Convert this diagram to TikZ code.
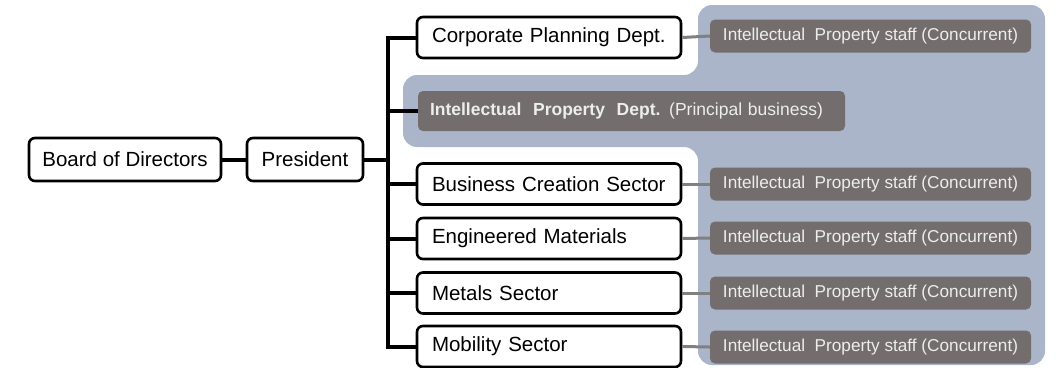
\documentclass[tikz,border=0pt]{standalone}
\usepackage{fontspec}
\setmainfont{Liberation Sans}
\definecolor{panelblue}{HTML}{AAB5C9}
\definecolor{staffgray}{HTML}{746D6D}
\definecolor{linkgray}{HTML}{808080}
\definecolor{stafftext}{HTML}{EDEDED}
\begin{document}
\begin{tikzpicture}[x=1pt,y=-1pt,
  orgbox/.style={draw=black, line width=2.6pt, rounded corners=6pt, fill=white,
    minimum height=41pt, inner sep=0pt, font=\fontsize{20.5}{23}\selectfont},
  unitbox/.style={orgbox, minimum width=264pt, text width=234pt, align=left},
  staffbox/.style={fill=staffgray, rounded corners=5pt, minimum width=321pt,
    minimum height=33pt, inner sep=0pt, text=stafftext,
    font=\fontsize{17.2}{20}\selectfont},
  treeline/.style={line width=4pt, black},
  stafflink/.style={line width=3pt, linkgray}
]
\useasboundingbox (0,0) rectangle (1056,367);

% blue panel holding the intellectual property staff
\fill[panelblue, rounded corners=14pt]
  (698,5) -- (1045,5) -- (1045,365) -- (698,365) -- (698,147)
  -- (403,147) -- (403,75) -- (698,75) -- cycle;

% top of the hierarchy
\node[orgbox, minimum width=192pt, minimum height=43pt] (board) at (125,159.5) {Board of Directors};
\node[orgbox, minimum width=116pt, minimum height=43pt] (pres) at (305,159.5) {President};
\coordinate (hub) at (388,159.5);

% departments and sectors
\node[unitbox] (corp) at (549,37.5) {Corporate Planning Dept.};
\node[fill=staffgray, rounded corners=5pt, minimum width=427pt, minimum height=40pt,
  text width=403pt, align=left, inner sep=0pt, text=stafftext,
  font=\fontsize{17.5}{20}\selectfont] (ipd) at (631.5,111)
  {\textbf{Intellectual\ \ Property\ \ Dept.} (Principal business)};
\node[unitbox] (bcs) at (549,184) {Business Creation Sector};
\node[unitbox] (eng) at (549,238.5) {Engineered Materials};
\node[unitbox] (met) at (549,293) {Metals Sector};
\node[unitbox] (mob) at (549,346.5) {Mobility Sector};

% concurrent staff
\node[staffbox] (s1) at (870.5,36) {Intellectual\ \ Property staff (Concurrent)};
\node[staffbox] (s2) at (870.5,184) {Intellectual\ \ Property staff (Concurrent)};
\node[staffbox] (s3) at (870.5,238) {Intellectual\ \ Property staff (Concurrent)};
\node[staffbox] (s4) at (870.5,293) {Intellectual\ \ Property staff (Concurrent)};
\node[staffbox] (s5) at (870.5,347) {Intellectual\ \ Property staff (Concurrent)};

% reporting lines
\draw[treeline] (board.east) -- (pres.west);
\draw[treeline] (pres.east) -- (hub);
\foreach \u in {corp,ipd,bcs,eng,met,mob}
  \draw[treeline] (\u.west) -| (hub);

% links to staff
\draw[stafflink] (corp.east) -- (s1.west);
\draw[stafflink] (bcs.east) -- (s2.west);
\draw[stafflink] (eng.east) -- (s3.west);
\draw[stafflink] (met.east) -- (s4.west);
\draw[stafflink] (mob.east) -- (s5.west);
\end{tikzpicture}
\end{document}
